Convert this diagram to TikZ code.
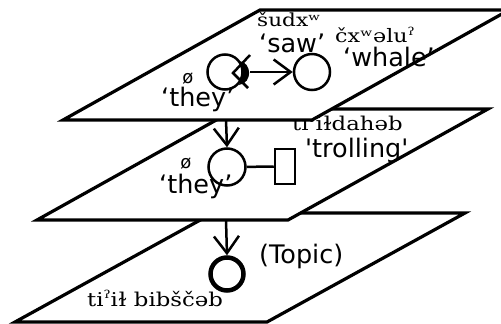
\documentclass[tikz,border=0pt]{standalone}
\usepackage{fontspec}
\setmainfont{DejaVu Serif}
\setsansfont{DejaVu Sans}
\newfontfamily\ipafont[FakeStretch=1.2]{DejaVu Serif}
\usetikzlibrary{arrows.meta}
\newcommand{\glot}[1]{\raisebox{#1}{\fontsize{11}{11}\selectfont ʔ}}
\begin{document}
\begin{tikzpicture}[x=1pt,y=-1pt,
  plane/.style={draw=black,fill=white,line width=3.2pt,line join=miter},
  ring/.style={draw=black,circle,line width=2.5pt,minimum size=34pt,inner sep=0pt},
  ser/.style={font=\ipafont\fontsize{19}{19}\selectfont,inner sep=0pt,anchor=base west},
  san/.style={font=\sffamily\fontsize{25.5}{25.5}\selectfont,inner sep=0pt,anchor=base west},
  nul/.style={font=\sffamily\fontsize{18}{18}\selectfont,inner sep=0pt,anchor=base},
  conn/.style={line width=2.5pt,-{Straight Barb[length=17pt,width=25pt]}}]
\path[use as bounding box] (0,0) rectangle (501,324);
\begin{scope}
\clip (0,0) rectangle (501,324);
% plane 3
\draw[plane] (15,322) -- (267,322) -- (465,213) -- (213,213) -- cycle;
\node[ring,line width=4.5pt,minimum size=33pt] (c3) at (227,274) {};
\node[san] (topic) at (259,263) {(Topic)};
\node[ser] (l3) at (87,306) {ti\glot{7.5pt}iɫ bibščəb};
\coordinate (p2b) at (226,220);
\draw[conn] (p2b) -- (c3.north);
% plane 2
\draw[plane] (37,220) -- (288,220) -- (488,109) -- (236,109) -- cycle;
\node[ser] (l2) at (292,130) {ti\glot{7.5pt}iɫdahəb};
\node[san] (g2) at (305,157) {\textquotesingle trolling\textquotesingle};
\node[ring,minimum size=37pt] (c2) at (227,167) {};
\node[draw,line width=2.5pt,minimum width=20pt,minimum height=35pt,inner sep=0pt] (r2) at (285,166.5) {};
\draw[line width=2.5pt] (c2) -- (r2);
\node[nul] (z2) at (186,168) {ø};
\node[san] (t2) at (159,193) {‘they’};
\coordinate (p1b) at (226,120);
\draw[conn] (p1b) -- (c2.north);
% plane 1
\draw[plane] (63,120) -- (312,120) -- (509,10) -- (260,10) -- cycle;
\node[ring,minimum size=35pt] (c1a) at (225,72) {};
\node[ring,minimum size=36pt] (c1b) at (312,72) {};
\fill (239,61) .. controls (252,62) and (253,83) .. (239,85) .. controls (243,77) and (243,68) .. (239,61) -- cycle;
\draw[line width=2.5pt] (250,55) -- (233,73) -- (248,88);
\coordinate (tail) at (250,72);
\draw[conn] (tail) -- (c1b.west);
\node[ser,font=\ipafont\fontsize{18}{18}\selectfont] (s1) at (257,26) {šudxʷ};
\node[san] (g1) at (259,52) {‘saw’};
\node[ser,font=\ipafont\fontsize{18.5}{18.5}\selectfont] (w1) at (335,42) {čxʷəlu\glot{7pt}};
\node[san] (g1b) at (343,66) {‘whale’};
\node[nul] (z1) at (188,83) {ø};
\node[san] (t1) at (161,106) {‘they’};
\end{scope}
\end{tikzpicture}
\end{document}
